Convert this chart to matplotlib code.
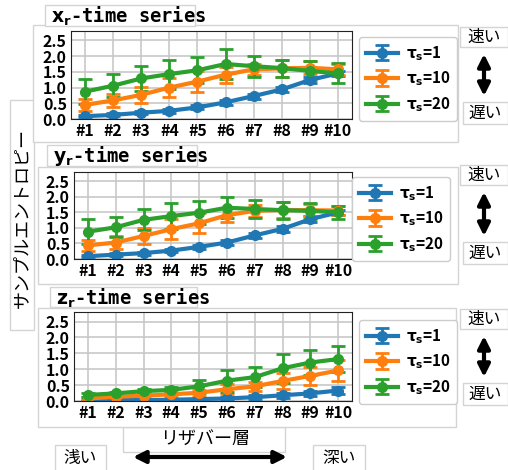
import matplotlib
matplotlib.use("Agg")
import matplotlib.pyplot as plt
from matplotlib.patches import Rectangle

plt.rcParams["font.family"] = ["Noto Sans CJK JP", "DejaVu Sans"]
plt.rcParams["mathtext.fontset"] = "dejavusans"

# データ
layers = ["#1", "#2", "#3", "#4", "#5", "#6", "#7", "#8", "#9", "#10"]
tau_labels = [r"$\mathbf{\tau_s}$=1", r"$\mathbf{\tau_s}$=10", r"$\mathbf{\tau_s}$=20"]
titles = [r"$\mathbf{x_r}$-time series", r"$\mathbf{y_r}$-time series", r"$\mathbf{z_r}$-time series"]

xr_t1 = [0.09, 0.13, 0.20, 0.26, 0.37, 0.53, 0.73, 0.94, 1.24, 1.45]
xr_t1_err = [0.04, 0.05, 0.05, 0.06, 0.06, 0.07, 0.08, 0.09, 0.10, 0.08]
xr_t10 = [0.45, 0.59, 0.77, 1.00, 1.19, 1.41, 1.58, 1.61, 1.63, 1.58]
xr_t10_err = [0.20, 0.20, 0.26, 0.31, 0.34, 0.25, 0.18, 0.27, 0.20, 0.18]
xr_t20 = [0.87, 1.06, 1.29, 1.43, 1.55, 1.75, 1.68, 1.62, 1.53, 1.45]
xr_t20_err = [0.40, 0.36, 0.39, 0.46, 0.42, 0.48, 0.34, 0.27, 0.30, 0.32]

yr_t1 = [0.09, 0.14, 0.19, 0.27, 0.39, 0.53, 0.76, 0.97, 1.28, 1.50]
yr_t1_err = [0.04, 0.05, 0.05, 0.06, 0.06, 0.07, 0.08, 0.09, 0.10, 0.08]
yr_t10 = [0.44, 0.53, 0.74, 0.96, 1.15, 1.41, 1.55, 1.58, 1.57, 1.56]
yr_t10_err = [0.18, 0.21, 0.25, 0.32, 0.32, 0.23, 0.20, 0.25, 0.20, 0.15]
yr_t20 = [0.88, 1.02, 1.26, 1.38, 1.49, 1.65, 1.61, 1.57, 1.55, 1.50]
yr_t20_err = [0.41, 0.32, 0.34, 0.43, 0.37, 0.33, 0.30, 0.27, 0.25, 0.20]

zr_t1 = [0.02, 0.03, 0.03, 0.04, 0.06, 0.08, 0.12, 0.18, 0.24, 0.33]
zr_t1_err = [0.02, 0.02, 0.02, 0.03, 0.03, 0.05, 0.06, 0.08, 0.07, 0.12]
zr_t10 = [0.08, 0.13, 0.17, 0.21, 0.26, 0.37, 0.46, 0.63, 0.79, 0.96]
zr_t10_err = [0.04, 0.05, 0.06, 0.07, 0.09, 0.15, 0.15, 0.25, 0.28, 0.32]
zr_t20 = [0.19, 0.24, 0.31, 0.35, 0.46, 0.64, 0.75, 1.03, 1.21, 1.32]
zr_t20_err = [0.05, 0.05, 0.06, 0.10, 0.20, 0.35, 0.32, 0.45, 0.40, 0.41]

series = [
    [(xr_t1, xr_t1_err), (xr_t10, xr_t10_err), (xr_t20, xr_t20_err)],
    [(yr_t1, yr_t1_err), (yr_t10, yr_t10_err), (yr_t20, yr_t20_err)],
    [(zr_t1, zr_t1_err), (zr_t10, zr_t10_err), (zr_t20, zr_t20_err)],
]
colors = ["#1f77b4", "#ff7f0e", "#2ca02c"]

W, H = 508, 470
fig = plt.figure(figsize=(W / 100, H / 100), dpi=100)

# 背景の枠・注釈用 (ピクセル座標)
bg = fig.add_axes([0, 0, 1, 1])
bg.set_xlim(0, W)
bg.set_ylim(H, 0)
bg.axis("off")

edge = "#d4d4d4"


def box(x, y, w, h):
    bg.add_patch(Rectangle((x, y), w, h, facecolor="white", edgecolor=edge, lw=1))


# 縦軸ラベルの枠
box(10, 100, 24, 230)
bg.text(22, 218, "サンプルエントロピー", rotation=90, ha="center", va="center", fontsize=13)

# パネル枠 (x, y, w, h) とタイトル枠
panel_boxes = [(33, 25, 425, 117), (38, 167, 420, 117), (38, 308, 418, 119)]
title_boxes = [(45, 5, 150, 21), (47, 145, 150, 21), (50, 287, 147, 20)]
legend_pos = [(359, 37), (352, 177), (359, 320)]
speed_y = [(27, 102), (165, 242), (309, 383)]

# 横軸ラベル枠
box(123, 427, 162, 25)
for px, py, pw, ph in panel_boxes:
    box(px, py, pw, ph)
for (tx, ty, tw, th), t in zip(title_boxes, titles):
    box(tx, ty, tw, th)
    bg.text(tx + 6, ty + th / 2 + 1, t, ha="left", va="center", fontsize=13.5,
            family="DejaVu Sans Mono", fontweight="bold")

for fy, sy in speed_y:
    box(460, fy, 48, 20)
    bg.text(484, fy + 10, "速い", ha="center", va="center", fontsize=12)
    box(463, sy, 45, 22)
    bg.text(485, sy + 11, "遅い", ha="center", va="center", fontsize=12)
    bg.annotate("", xy=(484, fy + 27), xytext=(484, sy - 6),
                arrowprops=dict(arrowstyle="<|-|>", color="black", lw=3,
                                mutation_scale=18, shrinkA=0, shrinkB=0))

bg.text(205, 439, "リザバー層", ha="center", va="center", fontsize=13)
box(55, 445, 51, 26)
bg.text(80, 458, "浅い", ha="center", va="center", fontsize=12)
box(313, 445, 52, 26)
bg.text(339, 458, "深い", ha="center", va="center", fontsize=12)
bg.annotate("", xy=(133, 457), xytext=(287, 457),
            arrowprops=dict(arrowstyle="<|-|>", color="black", lw=3,
                            mutation_scale=18, shrinkA=0, shrinkB=0))

# プロット領域 (ピクセル: 左, 上, 右, 下)
axes_px = [(71, 31, 352, 119), (74, 172, 352, 259), (74, 312, 352, 401)]

for i, (x0, y0, x1, y1) in enumerate(axes_px):
    ax = fig.add_axes([x0 / W, 1 - y1 / H, (x1 - x0) / W, (y1 - y0) / H])
    xs = list(range(len(layers)))
    for (vals, errs), c, lab in zip(series[i], colors, tau_labels):
        ax.errorbar(xs, vals, yerr=errs, color=c, lw=3, marker="o", ms=7,
                    capsize=5, capthick=2, elinewidth=2, label=lab)
    ax.set_xlim(-0.5, 9.5)
    ax.set_ylim(0, 2.8)
    ax.set_yticks([0, 0.5, 1.0, 1.5, 2.0, 2.5])
    ax.set_yticklabels(["0.0", "0.5", "1.0", "1.5", "2.0", "2.5"])
    ax.set_xticks(xs)
    ax.set_xticklabels(layers)
    ax.tick_params(labelsize=11.5, length=0, pad=3)
    for lab in ax.get_xticklabels() + ax.get_yticklabels():
        lab.set_fontweight("bold")
    ax.grid(True, color="#c8c8c8", lw=1.2)
    ax.set_axisbelow(True)
    for s in ax.spines.values():
        s.set_color("#222222")
    lx, ly = legend_pos[i]
    ax.legend(loc="upper left", bbox_to_anchor=(lx / W, 1 - ly / H),
              bbox_transform=fig.transFigure, prop={"weight": "bold", "size": 11},
              handlelength=2.1, borderpad=0.45, labelspacing=0.45,
              handletextpad=0.5, borderaxespad=0, framealpha=1)

fig.savefig("out.png", dpi=100)
